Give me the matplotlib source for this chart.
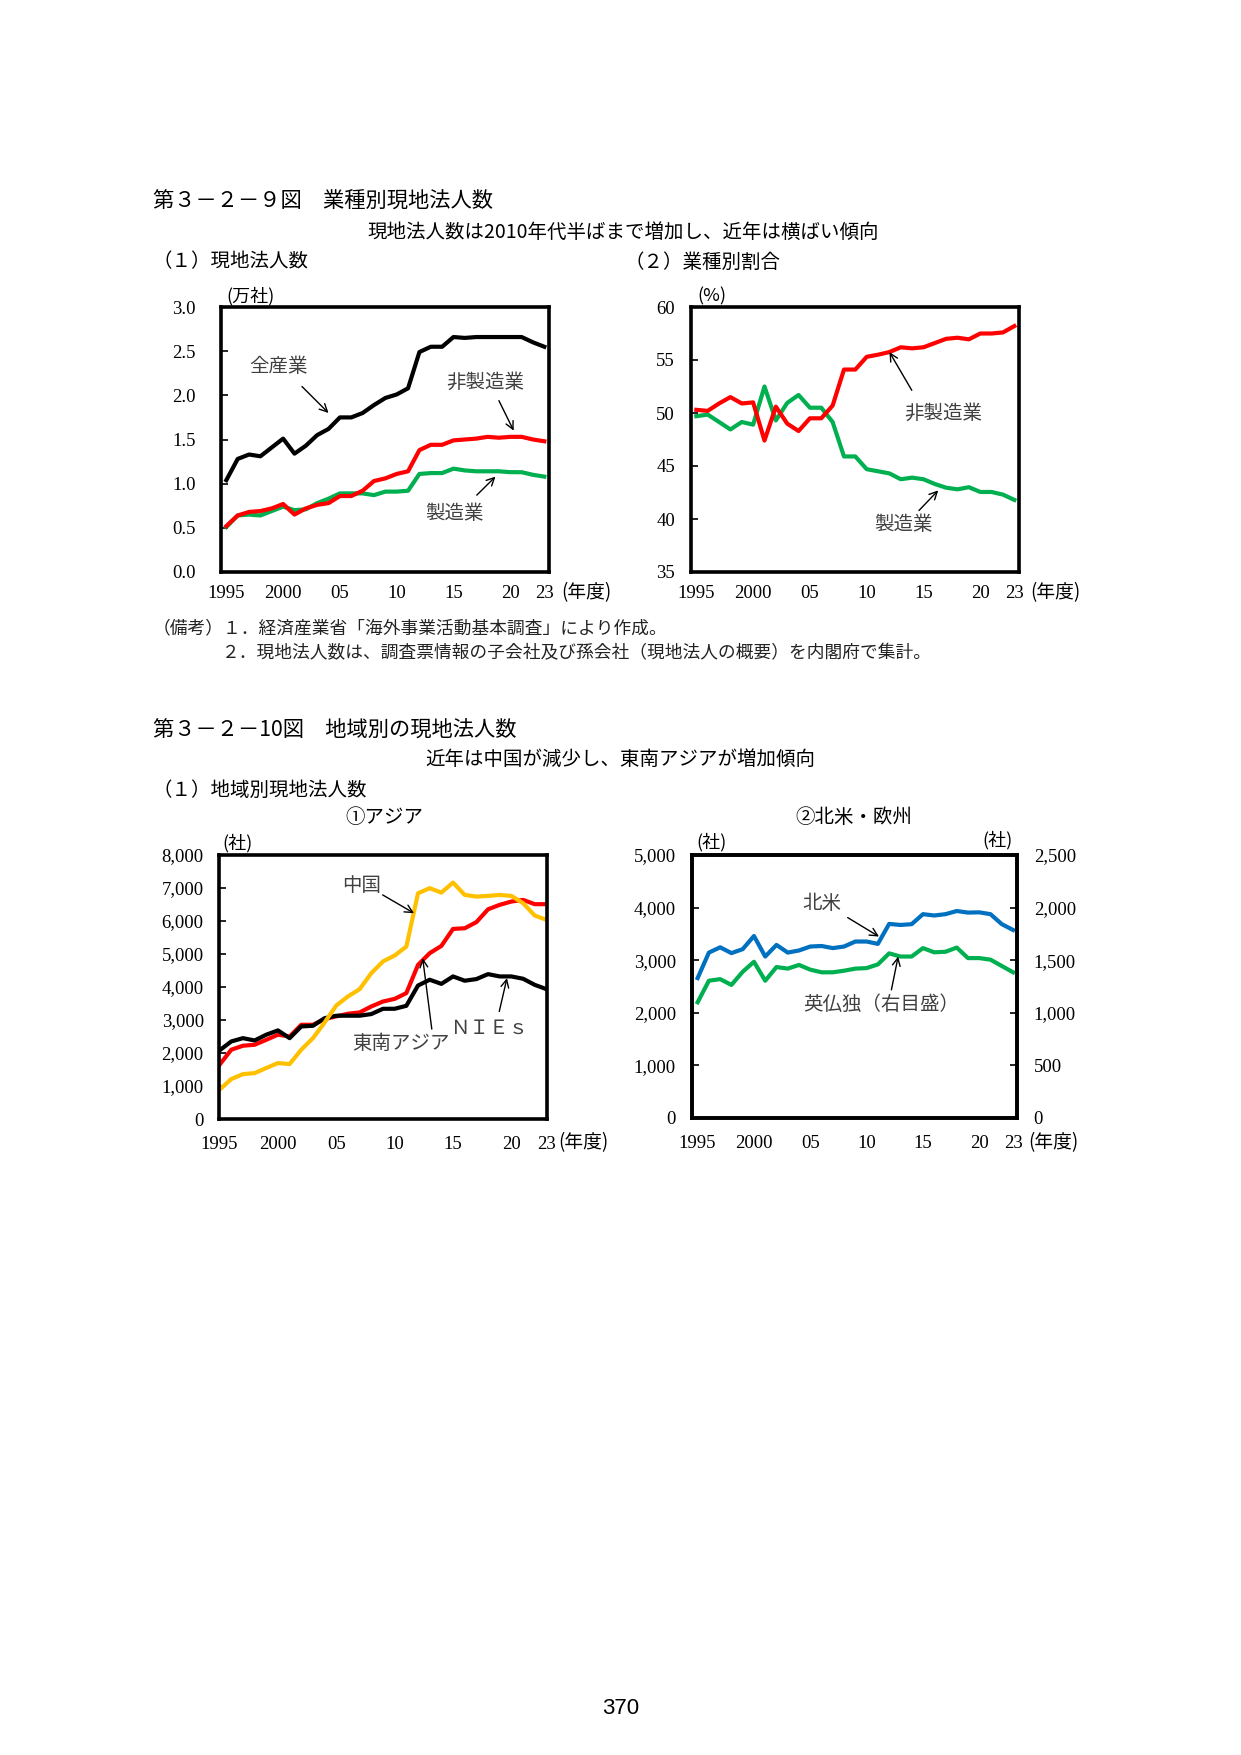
import matplotlib.pyplot as plt

plt.rcParams['font.family'] = ['Noto Sans CJK JP', 'DejaVu Sans']

years = list(range(1995, 2024))

# 第3-2-9図 (1) 現地法人数 (万社)
all_industry = [1.04, 1.28, 1.33, 1.31, 1.41, 1.51, 1.34, 1.43, 1.55, 1.62,
                1.75, 1.75, 1.80, 1.89, 1.97, 2.01, 2.08, 2.49, 2.55, 2.55,
                2.66, 2.65, 2.66, 2.66, 2.66, 2.66, 2.66, 2.60, 2.55]
non_manufacturing = [0.52, 0.64, 0.68, 0.69, 0.72, 0.77, 0.65, 0.72, 0.76, 0.78,
                     0.86, 0.86, 0.92, 1.03, 1.06, 1.11, 1.14, 1.38, 1.44, 1.44,
                     1.49, 1.50, 1.51, 1.53, 1.52, 1.53, 1.53, 1.50, 1.48]
manufacturing = [0.51, 0.64, 0.65, 0.64, 0.69, 0.74, 0.70, 0.71, 0.78, 0.83,
                 0.89, 0.89, 0.89, 0.87, 0.91, 0.91, 0.92, 1.11, 1.12, 1.12,
                 1.17, 1.15, 1.14, 1.14, 1.14, 1.13, 1.13, 1.10, 1.08]

# 第3-2-9図 (2) 業種別割合 (%)
non_mfg_share = [50.3, 50.2, 50.9, 51.5, 50.9, 51.0, 47.4, 50.6, 49.0, 48.3,
                 49.5, 49.5, 50.7, 54.1, 54.1, 55.3, 55.5, 55.75, 56.2, 56.1,
                 56.2, 56.6, 57.0, 57.1, 56.95, 57.5, 57.5, 57.6, 58.2]
mfg_share = [49.7, 49.85, 49.15, 48.45, 49.15, 48.9, 52.5, 49.3, 50.95, 51.7,
             50.5, 50.5, 49.15, 45.9, 45.9, 44.7, 44.5, 44.3, 43.75, 43.9,
             43.75, 43.3, 42.95, 42.8, 43.0, 42.55, 42.55, 42.3, 41.8]

# 第3-2-10図 ①アジア (社)
china = [890, 1210, 1360, 1390, 1545, 1695, 1665, 2100, 2450, 2925,
         3440, 3715, 3935, 4420, 4775, 4955, 5225, 6840, 6995, 6860,
         7165, 6790, 6740, 6760, 6790, 6760, 6540, 6165, 6035]
asean = [1645, 2100, 2220, 2250, 2400, 2555, 2500, 2855, 2855, 3030,
         3110, 3190, 3230, 3410, 3560, 3640, 3815, 4670, 5025, 5245,
         5760, 5780, 5965, 6355, 6490, 6590, 6640, 6510, 6510]
nies = [2080, 2350, 2450, 2380, 2555, 2685, 2450, 2805, 2825, 3055,
        3130, 3130, 3130, 3180, 3340, 3340, 3430, 4045, 4220, 4095,
        4320, 4190, 4240, 4390, 4320, 4320, 4250, 4065, 3935]

# 第3-2-10図 ②北米・欧州 (社)
north_america = [2660, 3145, 3245, 3135, 3210, 3460, 3070, 3290, 3145, 3185,
                 3260, 3270, 3230, 3260, 3355, 3355, 3310, 3690, 3670, 3685,
                 3875, 3850, 3875, 3935, 3905, 3910, 3875, 3685, 3575]
uk_fr_de = [1100, 1305, 1320, 1265, 1390, 1485, 1305, 1435, 1420, 1455,
            1410, 1385, 1385, 1400, 1420, 1425, 1460, 1565, 1535, 1535,
            1615, 1575, 1580, 1620, 1520, 1520, 1505, 1445, 1385]

xtick_pos = [1995, 2000, 2005, 2010, 2015, 2020, 2023]
xtick_labels = ['1995', '2000', '05', '10', '15', '20', '23']

W, H = 1241, 1755
RED = '#FF0000'
GREEN = '#00B050'
YELLOW = '#FFC000'
BLUE = '#0070C0'
NUM_FONT = 'Liberation Serif'
NUM_SIZE = 13.5
NOTE_COLOR = '#404040'

fig = plt.figure(figsize=(W / 100, H / 100), dpi=100)


def fig_text(x, y, s, **kw):
    fig.text(x / W, 1 - y / H, s, **kw)


def make_axes(left, top, right, bottom):
    return fig.add_axes([left / W, 1 - bottom / H, (right - left) / W, (bottom - top) / H])


def style_axes(ax, xlim, ylim, yticks, ylabels, ypad, xpad):
    ax.set_xlim(*xlim)
    ax.set_ylim(*ylim)
    ax.set_xticks(xtick_pos, xtick_labels, fontfamily=NUM_FONT, fontsize=NUM_SIZE)
    ax.set_yticks(yticks, ylabels, fontfamily=NUM_FONT, fontsize=NUM_SIZE)
    ax.tick_params(axis='x', length=0, pad=xpad)
    ax.tick_params(axis='y', direction='in', length=5, width=1.2, pad=ypad)
    for sp in ax.spines.values():
        sp.set_linewidth(2.6)


def note(ax, s, text_xy, tail, head):
    ax.text(*text_xy, s, ha='center', va='center', fontsize=14, color=NOTE_COLOR)
    ax.annotate('', xy=head, xytext=tail,
                arrowprops=dict(arrowstyle='->', lw=1, color='black',
                                shrinkA=0, shrinkB=0, mutation_scale=14))


# ---- page headings ----
fig_text(153, 202, '第３－２－９図　業種別現地法人数', fontsize=15.3, va='center')
fig_text(367, 232, '現地法人数は2010年代半ばまで増加し、近年は横ばい傾向', fontsize=14, va='center')
fig_text(153, 262, '（１）現地法人数', fontsize=14, va='center')
fig_text(624, 262, '（２）業種別割合', fontsize=14, va='center')

# ---- (1) 現地法人数 ----
ax1 = make_axes(221, 307, 549, 572)
ax1.plot(years, manufacturing, color=GREEN, lw=3)
ax1.plot(years, non_manufacturing, color=RED, lw=3)
ax1.plot(years, all_industry, color='black', lw=3)
style_axes(ax1, (1994.53, 2023.41), (0, 3.0),
           [0, 0.5, 1.0, 1.5, 2.0, 2.5, 3.0],
           [f'{v:.1f}' for v in [0, 0.5, 1.0, 1.5, 2.0, 2.5, 3.0]], 18, 9.5)
note(ax1, '全産業', (1999.6, 2.33), (2001.66, 2.10), (2004.0, 1.80))
note(ax1, '非製造業', (2017.8, 2.15), (2019.0, 1.94), (2020.3, 1.60))
note(ax1, '製造業', (2015.1, 0.66), (2017.05, 0.87), (2018.7, 1.08))
fig_text(251, 296, '(万社)', fontsize=13, ha='center', va='center')
fig_text(561, 593, '(年度)', fontsize=13.5, va='center')

# ---- (2) 業種別割合 ----
ax2 = make_axes(691, 307, 1019, 572)
ax2.plot(years, mfg_share, color=GREEN, lw=3)
ax2.plot(years, non_mfg_share, color=RED, lw=3)
style_axes(ax2, (1994.53, 2023.41), (35, 60),
           [35, 40, 45, 50, 55, 60], ['35', '40', '45', '50', '55', '60'], 11.5, 9.5)
note(ax2, '非製造業', (2016.7, 50.0), (2013.97, 52.14), (2012.0, 55.75))
note(ax2, '製造業', (2013.2, 39.5), (2014.6, 40.8), (2016.3, 42.7))
fig_text(712, 296, '(%)', fontsize=13, ha='center', va='center')
fig_text(1030, 593, '(年度)', fontsize=13.5, va='center')

# ---- notes ----
fig_text(153, 628, '（備考）１．経済産業省「海外事業活動基本調査」により作成。',
         fontsize=12.75, va='center', color='#222222')
fig_text(222, 653, '２．現地法人数は、調査票情報の子会社及び孫会社（現地法人の概要）を内閣府で集計。',
         fontsize=12.75, va='center', color='#222222')

# ---- 第3-2-10図 headings ----
fig_text(153, 731, '第３－２－10図　地域別の現地法人数', fontsize=15.3, va='center')
fig_text(425, 759, '近年は中国が減少し、東南アジアが増加傾向', fontsize=14, va='center')
fig_text(153, 790, '（１）地域別現地法人数', fontsize=14, va='center')
fig_text(384, 817, '①アジア', fontsize=14, ha='center', va='center')
fig_text(854, 817, '②北米・欧州', fontsize=14, ha='center', va='center')

# ---- ①アジア ----
ax3 = make_axes(219, 855, 547, 1119)
ax3.plot(years, asean, color=RED, lw=3)
ax3.plot(years, nies, color='black', lw=3)
ax3.plot(years, china, color=YELLOW, lw=3)
asia_ticks = list(range(0, 8001, 1000))
style_axes(ax3, (1994.95, 2023.05), (0, 8000),
           asia_ticks, [f'{v:,}' for v in asia_ticks], 11, 12)
note(ax3, '中国', (2007.17, 7074), (2008.97, 6791), (2011.66, 6236))
note(ax3, '東南アジア', (2010.5, 2300), (2013.18, 2724), (2012.4, 4874))
note(ax3, 'ＮＩＥｓ', (2018.2, 2735), (2018.96, 3259), (2019.62, 4268))
fig_text(238, 843, '(社)', fontsize=13, ha='center', va='center')
fig_text(558, 1143, '(年度)', fontsize=13.5, va='center')

# ---- ②北米・欧州 ----
ax4 = make_axes(692, 855, 1017, 1118)
ax4.plot(years, north_america, color=BLUE, lw=3)
left_ticks = list(range(0, 5001, 1000))
style_axes(ax4, (1994.5, 2023.35), (0, 5000),
           left_ticks, [f'{v:,}' for v in left_ticks], 11.5, 12)
ax4r = ax4.twinx()
ax4r.plot(years, uk_fr_de, color=GREEN, lw=3)
right_ticks = list(range(0, 2501, 500))
ax4r.set_ylim(0, 2500)
ax4r.set_yticks(right_ticks, [f'{v:,}' for v in right_ticks], fontfamily=NUM_FONT, fontsize=NUM_SIZE)
ax4r.tick_params(axis='y', direction='in', length=5, width=1.2, pad=12)
for sp in ax4r.spines.values():
    sp.set_linewidth(2.6)
note(ax4, '北米', (2006.07, 4070), (2008.32, 3810), (2011.1, 3449))
note(ax4r, '英仏独（右目盛）', (2011.33, 1076), (2012.2, 1218), (2012.8, 1535))
fig_text(712, 842, '(社)', fontsize=13, ha='center', va='center')
fig_text(997, 840, '(社)', fontsize=13, ha='center', va='center')
fig_text(1028, 1143, '(年度)', fontsize=13.5, va='center')

# page number
fig_text(621, 1709, '370', fontfamily='Liberation Sans', fontsize=16, ha='center', va='center')

fig.savefig('out.png', dpi=100)
